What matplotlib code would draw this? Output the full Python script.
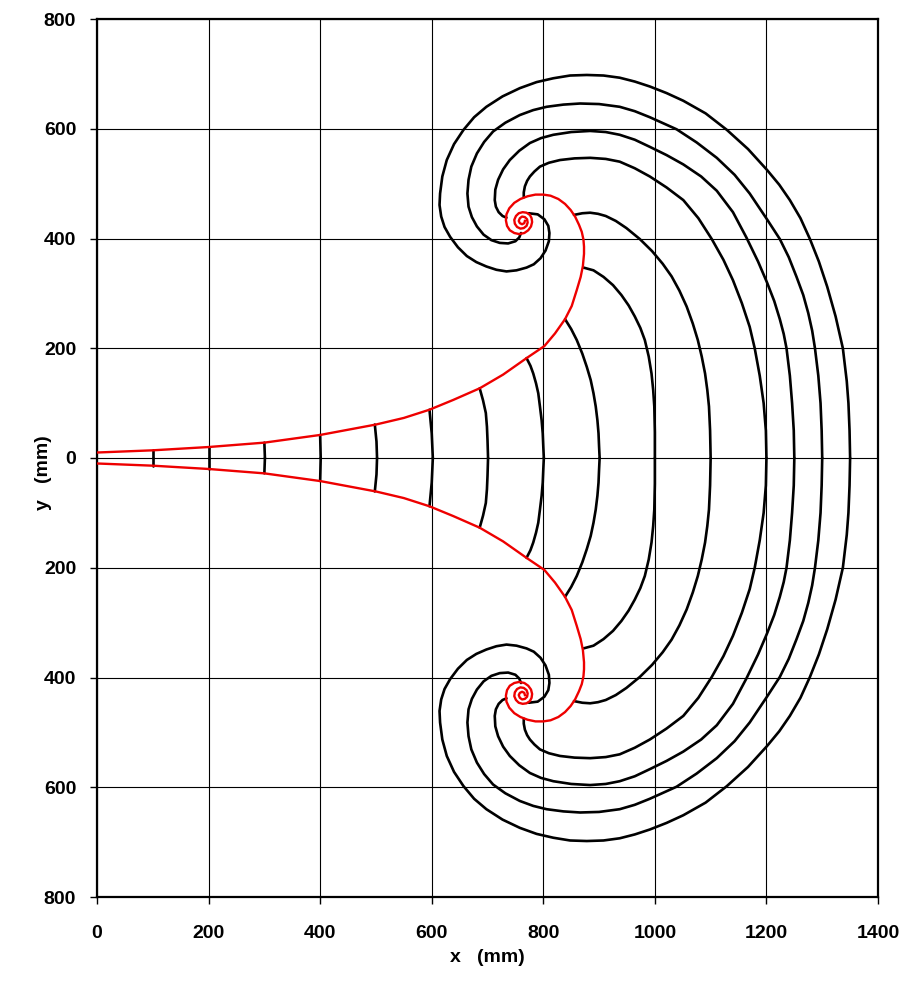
import matplotlib
matplotlib.use("Agg")
import matplotlib.pyplot as plt
from matplotlib.ticker import FuncFormatter

plt.rcParams['font.family'] = ['Liberation Sans', 'DejaVu Sans']

# ---- horn profile (upper half, mm); lower half is its mirror image ----
profile_x = [0, 100, 200, 300, 400, 500, 550, 596, 639, 686, 728, 770, 802, 821, 839, 851,
             860, 867, 871, 873, 873, 872, 869, 864, 857, 849, 839, 827, 813, 800, 786, 772,
             759, 748, 739, 734, 733, 735, 740, 748, 757, 766, 773, 778, 780, 779, 776, 770,
             763, 756, 751, 748, 749, 753, 759, 765, 770, 772, 771, 767, 762, 758, 756, 758,
             762, 766, 767]
profile_y = [10, 14, 20, 28, 42, 61, 73, 88, 106, 127, 152, 182, 204, 227, 253, 277,
             306, 330, 350, 372, 385, 398, 412, 425, 440, 452, 463, 472, 478, 480, 480, 477,
             472, 465, 455, 444, 433, 423, 415, 410, 408, 410, 415, 422, 430, 437, 443, 447,
             448, 446, 441, 434, 427, 421, 418, 419, 423, 429, 435, 439, 440, 437, 432, 428,
             426, 428, 432]

# ---- wavefronts (upper half, mm), from the wall to the axis ----
wf100_x = [100, 100]
wf100_y = [14, 0]
wf200_x = [200, 200]
wf200_y = [20, 0]
wf300_x = [300, 301]
wf300_y = [28, 0]
wf400_x = [400, 401]
wf400_y = [42, 0]
wf500_x = [498, 501, 502]
wf500_y = [61, 30, 0]
wf600_x = [596, 600, 602]
wf600_y = [88, 45, 0]
wf700_x = [686, 692, 697, 699, 700, 701]
wf700_y = [127, 105, 82, 57, 33, 0]
wf800_x = [770, 777, 782, 787, 791, 794, 797, 799, 800, 801]
wf800_y = [182, 168, 154, 136, 118, 94, 69, 45, 21, 0]
wf900_x = [839, 850, 860, 870, 878, 885, 890, 894, 897, 899, 900, 901]
wf900_y = [253, 235, 215, 190, 166, 142, 118, 94, 69, 45, 21, 0]
wf1000_x = [872, 890, 908, 925, 940, 953, 964, 974, 982, 989, 994, 997, 999, 1000, 1000]
wf1000_y = [347, 342, 330, 315, 297, 278, 258, 237, 215, 185, 154, 124, 94, 47, 0]
wf1100_x = [855, 870, 884, 898, 912, 930, 949, 973, 995, 1014, 1030, 1044, 1057, 1068, 1077,
            1084, 1090, 1094, 1097, 1099, 1100]
wf1100_y = [443, 446, 447, 445, 441, 432, 419, 399, 377, 354, 331, 305, 276, 245, 215,
            185, 154, 124, 94, 50, 0]
wf1200_x = [765, 765, 767, 771, 776, 784, 794, 810, 830, 856, 884, 912, 937, 964, 991, 1021,
            1051, 1078, 1102, 1123, 1140, 1156, 1170, 1179, 1188, 1195, 1199, 1200]
wf1200_y = [475, 484, 495, 505, 513, 522, 531, 538, 543, 546, 547, 545, 540, 528, 513, 493,
            470, 437, 399, 361, 324, 282, 239, 200, 150, 100, 50, 0]
wf1250_x = [734, 727, 720, 715, 713, 714, 719, 728, 740, 757, 776, 796, 818, 850, 884, 912,
            937, 964, 991, 1021, 1051, 1083, 1111, 1140, 1164, 1185, 1201, 1214, 1224, 1231,
            1236, 1242, 1246, 1249, 1250]
wf1250_y = [438, 441, 448, 458, 470, 489, 507, 526, 543, 560, 574, 583, 589, 594, 596, 594,
            589, 580, 567, 552, 535, 513, 487, 448, 402, 358, 320, 286, 253, 226,
            200, 150, 100, 50, 0]
wf1300_x = [760, 757, 750, 737, 722, 707, 693, 681, 672, 666, 664, 666, 671, 681, 694, 710,
            732, 758, 782, 806, 836, 866, 900, 937, 964, 991, 1039, 1075, 1111, 1143, 1170,
            1201, 1224, 1240, 1254, 1266, 1275, 1282, 1287, 1293, 1297, 1299, 1300]
wf1300_y = [410, 402, 395, 391, 392, 397, 407, 422, 439, 458, 482, 507, 531, 555, 576, 595,
            611, 625, 634, 640, 644, 646, 645, 640, 632, 621, 599, 575, 547, 516, 482,
            435, 399, 366, 330, 297, 264, 232, 200, 150, 100, 50, 0]
wf1350_x = [774, 790, 802, 809, 811, 810, 804, 795, 783, 770, 752, 734, 716, 698, 680, 663,
            647, 633, 623, 617, 614, 615, 619, 627, 640, 657, 676, 698, 727, 758, 788, 818,
            848, 878, 908, 937, 964, 991, 1021, 1051, 1091, 1129, 1167, 1201, 1223, 1242,
            1261, 1278, 1294, 1309, 1324, 1337, 1344, 1347, 1349, 1350]
wf1350_y = [446, 444, 435, 423, 410, 395, 378, 364, 353, 347, 342, 340, 343, 349, 357, 368,
            384, 403, 421, 440, 461, 482, 513, 543, 572, 598, 621, 640, 659, 674, 685, 692,
            697, 698, 697, 693, 686, 677, 665, 651, 628, 598, 563, 525, 498, 470,
            437, 399, 358, 312, 258, 200, 140, 100, 50, 0]

wavefronts = [(wf100_x, wf100_y), (wf200_x, wf200_y), (wf300_x, wf300_y), (wf400_x, wf400_y),
              (wf500_x, wf500_y), (wf600_x, wf600_y), (wf700_x, wf700_y), (wf800_x, wf800_y),
              (wf900_x, wf900_y), (wf1000_x, wf1000_y), (wf1100_x, wf1100_y),
              (wf1200_x, wf1200_y), (wf1250_x, wf1250_y), (wf1300_x, wf1300_y),
              (wf1350_x, wf1350_y)]

x_ticks = [0, 200, 400, 600, 800, 1000, 1200, 1400]
y_ticks = [-800, -600, -400, -200, 0, 200, 400, 600, 800]

fig = plt.figure(figsize=(9.10, 9.82), dpi=100)
ax = fig.add_axes([97 / 910, 1 - 897 / 982, 781 / 910, 878 / 982])

for wx, wy in wavefronts:
    ax.plot(wx, wy, color='black', lw=1.9, zorder=3, solid_capstyle='round',
            solid_joinstyle='round')
    ax.plot(wx, [-v for v in wy], color='black', lw=1.9, zorder=3, solid_capstyle='round',
            solid_joinstyle='round')

ax.plot(profile_x, profile_y, color='#ee0000', lw=1.7, zorder=4, solid_joinstyle='round')
ax.plot(profile_x, [-v for v in profile_y], color='#ee0000', lw=1.7, zorder=4,
        solid_joinstyle='round')

ax.set_xlim(0, 1400)
ax.set_ylim(-800, 800)
ax.set_xticks(x_ticks)
ax.set_yticks(y_ticks)
ax.yaxis.set_major_formatter(FuncFormatter(lambda v, p: f"{abs(int(round(v)))}"))
ax.grid(True, color='black', lw=0.8, zorder=1)
ax.set_axisbelow(True)

for s in ax.spines.values():
    s.set_linewidth(1.6)
    s.set_color('black')

ax.tick_params(axis='both', direction='out', length=5, width=1, colors='black',
               labelsize=14)
ax.tick_params(axis='x', pad=15)
ax.tick_params(axis='y', pad=10)
for lbl in ax.get_xticklabels() + ax.get_yticklabels():
    lbl.set_fontweight('bold')

ax.set_xlabel("x   (mm)", fontsize=14, fontweight='bold')
ax.set_ylabel("y   (mm)", fontsize=14, fontweight='bold')
ax.xaxis.set_label_coords(0.5, -0.059)
ax.yaxis.set_label_coords(-0.058, 0.483)

fig.savefig("out.png", dpi=100)
